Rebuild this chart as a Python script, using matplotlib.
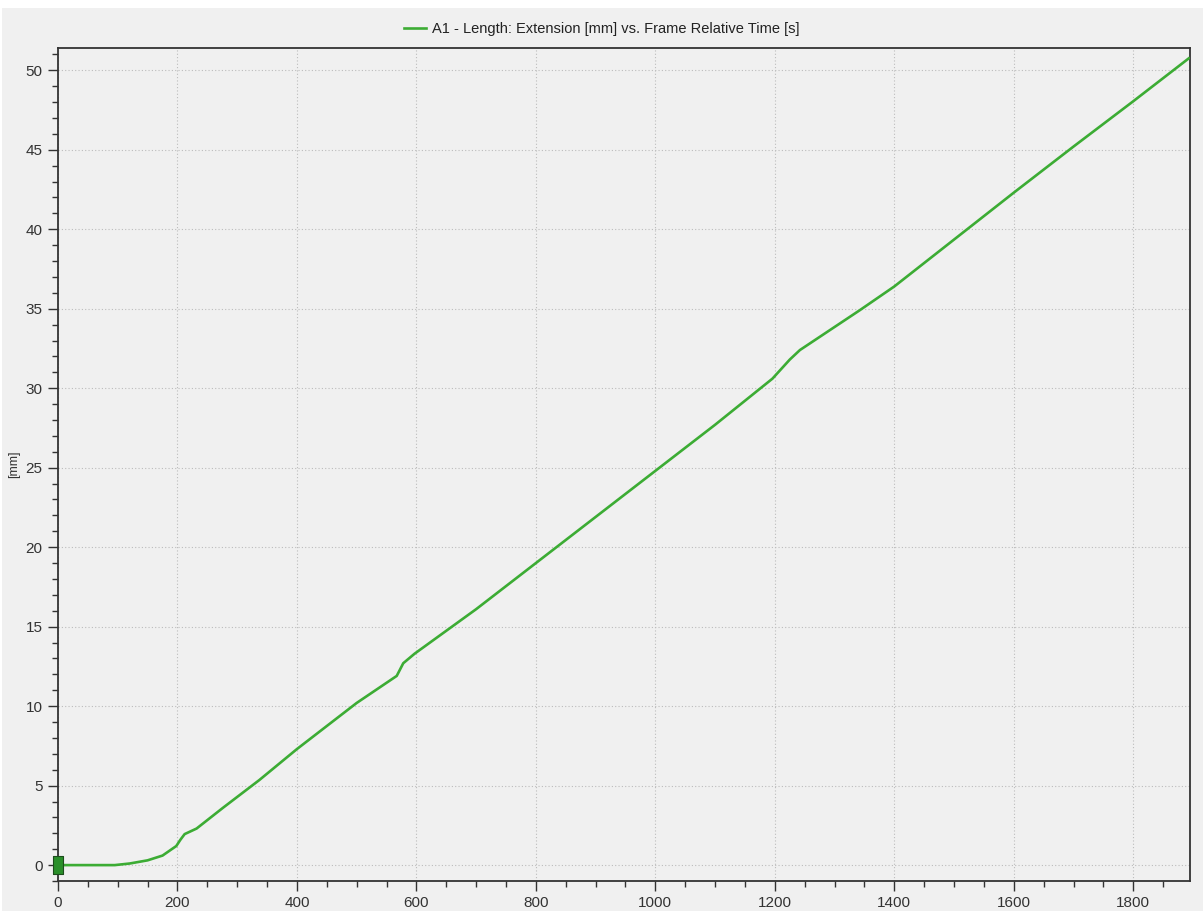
import matplotlib
matplotlib.use("Agg")
import matplotlib.pyplot as plt
from matplotlib.patches import Rectangle
from matplotlib.ticker import MultipleLocator

# Extension vs. frame relative time
time_s = [0, 95, 120, 150, 175, 198, 205, 212, 232, 276, 337, 400, 500, 567,
          578, 597, 700, 800, 900, 1000, 1100, 1196, 1225, 1242, 1258, 1342,
          1400, 1500, 1600, 1700, 1800, 1893]
ext_mm = [0, 0, 0.1, 0.3, 0.6, 1.2, 1.6, 1.95, 2.3, 3.6, 5.35, 7.3, 10.2, 11.9,
          12.7, 13.3, 16.1, 19.0, 21.9, 24.8, 27.7, 30.6, 31.8, 32.4, 32.8,
          34.9, 36.4, 39.35, 42.3, 45.2, 48.05, 50.75]
series_label = "A1 - Length: Extension [mm] vs. Frame Relative Time [s]"
y_label = "[mm]"

GREEN = "#3cac34"
BG = "#f0f0f0"

plt.rcParams["font.family"] = ["Liberation Sans", "DejaVu Sans"]

fig = plt.figure(figsize=(12.03, 9.11), dpi=100, facecolor=BG)
# white screenshot margin along top and left edge
fig.patches.append(Rectangle((0, 1 - 8 / 911), 1, 8 / 911, transform=fig.transFigure,
                             fc="white", ec="none", zorder=-1))
fig.patches.append(Rectangle((0, 0), 2 / 1203, 1, transform=fig.transFigure,
                             fc="white", ec="none", zorder=-1))

ax = fig.add_axes([58 / 1203, 1 - 881 / 911, (1190 - 58) / 1203, (881 - 48) / 911])
ax.set_facecolor(BG)

ax.plot(time_s, ext_mm, color=GREEN, lw=1.9, label=series_label, zorder=3)
# start-of-data cursor block
cursor = [(-0.5, -1), (0.5, -1), (0.5, 1), (-0.5, 1), (-0.5, -1)]
ax.plot(time_s[:1], ext_mm[:1], linestyle="none", marker=cursor, ms=13,
        mfc="#2a8f2a", mec="#1d4d1d", mew=0.8, zorder=4, clip_on=False)

ax.set_xlim(0, 1895)
ax.set_ylim(-1.0, 51.4)
ax.xaxis.set_major_locator(MultipleLocator(200))
ax.xaxis.set_minor_locator(MultipleLocator(50))
ax.yaxis.set_major_locator(MultipleLocator(5))
ax.yaxis.set_minor_locator(MultipleLocator(1))

ax.grid(True, which="major", color="#bcbcbc", lw=0.8, linestyle=(0, (1, 2)))
ax.tick_params(which="major", length=7, width=1, color="#333333",
               labelsize=11, labelcolor="#333333", pad=4)
ax.tick_params(which="minor", length=4, width=1, color="#333333")
for s in ax.spines.values():
    s.set_color("#333333")
    s.set_linewidth(1.3)

ax.set_ylabel(y_label, fontsize=9, color="#333333", labelpad=4)

fig.legend(loc="upper center", bbox_to_anchor=(0.5, 1 - 9 / 911), frameon=False,
           fontsize=10.5, handlelength=1.5, handletextpad=0.4,
           labelcolor="#222222")

fig.savefig("out.png", dpi=100, facecolor=BG)
